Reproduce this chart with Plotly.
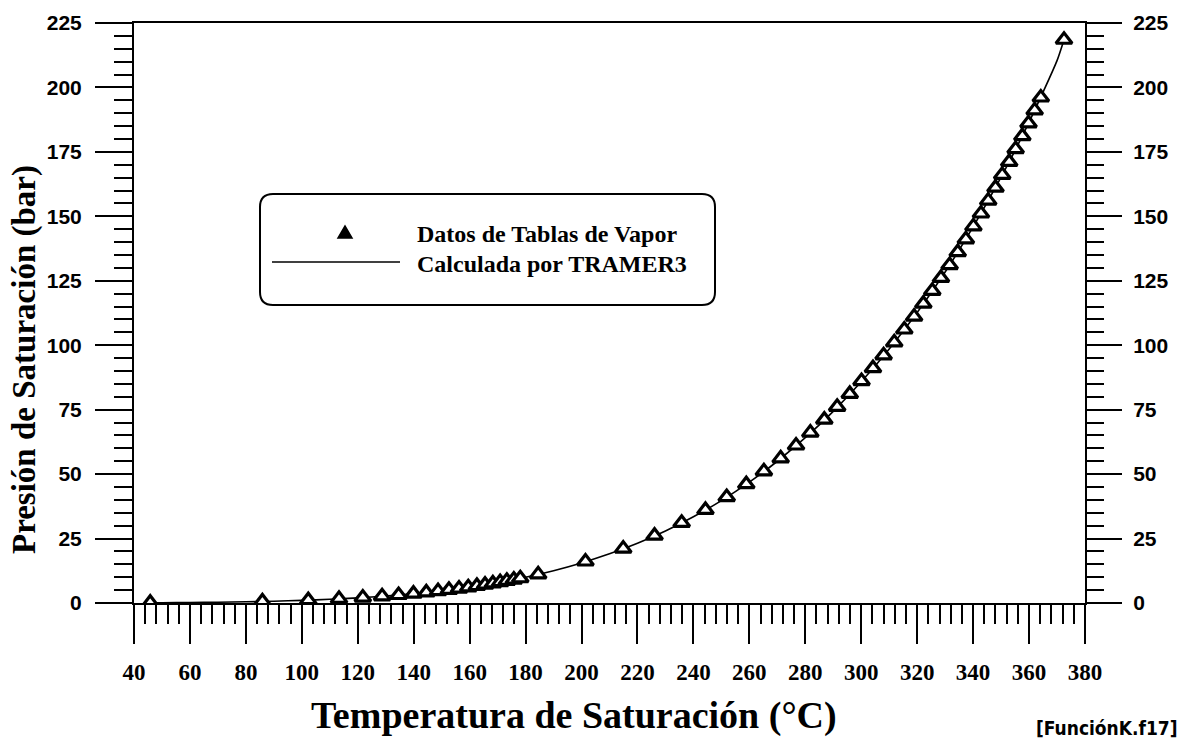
import plotly.graph_objects as go

# Saturation data from steam tables: temperature (°C) and pressure (bar)
temp_tablas = [45.8, 85.9, 102.3, 113.3, 121.8, 128.7, 134.6, 139.9, 144.5, 148.7,
               152.6, 156.2, 159.5, 162.6, 165.5, 168.3, 170.9, 173.3, 175.8, 178.1,
               184.5, 201.4, 214.9, 226.1, 235.8, 244.3, 251.9, 258.9, 265.2, 271.2,
               276.7, 281.8, 286.8, 291.4, 295.9, 300.1, 304.2, 308.0, 311.8, 315.4,
               318.9, 322.2, 325.4, 328.5, 331.6, 334.5, 337.4, 340.1, 342.8, 345.4,
               348.0, 350.4, 352.9, 355.2, 357.6, 359.8, 362.0, 364.2, 372.5]
pres_tablas = [0.1, 0.6, 1.1, 1.6, 2.1, 2.6, 3.1, 3.6, 4.1, 4.6,
               5.1, 5.6, 6.1, 6.6, 7.1, 7.6, 8.1, 8.6, 9.1, 9.6,
               11.1, 16.1, 21.1, 26.1, 31.1, 36.1, 41.1, 46.1, 51.1, 56.1,
               61.1, 66.1, 71.1, 76.1, 81.1, 86.1, 91.1, 96.1, 101.1, 106.1,
               111.1, 116.1, 121.1, 126.1, 131.1, 136.1, 141.1, 146.1, 151.1, 156.1,
               161.1, 166.1, 171.1, 176.1, 181.1, 186.1, 191.1, 196.1, 218.5]

# Curve computed by TRAMER3
temp_calc = [45.8, 50, 60, 70, 80, 90, 100, 110, 120, 130, 140, 150, 160, 170, 180,
             190, 200, 210, 220, 230, 240, 250, 260, 270, 280, 290, 300, 310, 320,
             330, 340, 350, 360, 370, 372.5]
pres_calc = [0.10, 0.12, 0.20, 0.31, 0.47, 0.70, 1.01, 1.43, 1.99, 2.70, 3.61, 4.76,
             6.18, 7.92, 10.02, 12.54, 15.54, 19.06, 23.18, 27.95, 33.44, 39.73, 46.88,
             54.99, 64.12, 74.36, 85.81, 98.56, 112.7, 128.4, 145.9, 165.2, 186.5,
             210.4, 218.5]

x_ticks = list(range(40, 381, 20))
y_ticks = list(range(0, 226, 25))

W, H = 1186, 742
L, R, T, B = 134, 101, 23, 139
PW, PH = W - L - R, H - T - B

SERIF = "Liberation Serif, Times New Roman, serif"
SANS = "Liberation Sans, Arial, sans-serif"


def px(x):
    return (x - L) / PW


def py(y):
    return (H - B - y) / PH


fig = go.Figure()

fig.add_trace(go.Scatter(
    x=temp_calc, y=pres_calc, mode="lines",
    line=dict(color="black", width=1.6, shape="spline", smoothing=0.6),
    showlegend=False, hoverinfo="skip"))

fig.add_trace(go.Scatter(
    x=temp_tablas, y=pres_tablas, mode="markers",
    marker=dict(symbol="triangle-up", size=14, color="white",
                line=dict(color="black", width=3.2)),
    showlegend=False))

axis_common = dict(
    showline=True, linewidth=2, linecolor="black",
    showgrid=False, zeroline=False,
    ticks="outside", tickwidth=2, tickcolor="black",
)

fig.update_layout(
    width=W, height=H,
    margin=dict(l=L, r=R, t=T, b=B),
    paper_bgcolor="white", plot_bgcolor="white",
    showlegend=False,
    xaxis=dict(
        range=[40, 380], tickvals=x_ticks, ticklen=39, mirror=True,
        tickfont=dict(family=SERIF, size=23, color="black", weight="bold"),
        ticklabelstandoff=8,
        minor=dict(dtick=4, ticklen=19, tickwidth=2, tickcolor="black", ticks="outside"),
        **axis_common),
    yaxis=dict(
        range=[0, 225], tickvals=y_ticks, ticklen=37,
        tickfont=dict(family=SANS, size=21, color="black", weight="bold"),
        ticklabelstandoff=9,
        minor=dict(dtick=5, ticklen=18, tickwidth=2, tickcolor="black", ticks="outside"),
        **axis_common),
    yaxis2=dict(
        range=[0, 225], tickvals=y_ticks, ticklen=35, overlaying="y", side="right",
        anchor="x",
        tickfont=dict(family=SANS, size=21, color="black", weight="bold"),
        ticklabelstandoff=7,
        minor=dict(dtick=5, ticklen=17, tickwidth=2, tickcolor="black", ticks="outside"),
        **axis_common),
)

# keep the right-hand axis drawn
fig.add_trace(go.Scatter(x=[None], y=[None], yaxis="y2", showlegend=False,
                         hoverinfo="skip"))

# Legend box with rounded corners
bx0, bx1, by0, by1, rr = 260, 715, 194, 305, 13
path = (f"M {px(bx0 + rr)},{py(by0)} L {px(bx1 - rr)},{py(by0)} "
        f"Q {px(bx1)},{py(by0)} {px(bx1)},{py(by0 + rr)} "
        f"L {px(bx1)},{py(by1 - rr)} "
        f"Q {px(bx1)},{py(by1)} {px(bx1 - rr)},{py(by1)} "
        f"L {px(bx0 + rr)},{py(by1)} "
        f"Q {px(bx0)},{py(by1)} {px(bx0)},{py(by1 - rr)} "
        f"L {px(bx0)},{py(by0 + rr)} "
        f"Q {px(bx0)},{py(by0)} {px(bx0 + rr)},{py(by0)} Z")
fig.add_shape(type="path", path=path, xref="paper", yref="paper",
              line=dict(color="black", width=2), fillcolor="white", layer="above")

# Legend keys
tx, ty = 345, 233
tri = (f"M {px(tx - 7)},{py(ty + 5)} L {px(tx + 7)},{py(ty + 5)} "
       f"L {px(tx)},{py(ty - 7)} Z")
fig.add_shape(type="path", path=tri, xref="paper", yref="paper",
              line=dict(color="black", width=1.5), fillcolor="black", layer="above")
fig.add_shape(type="line", xref="paper", yref="paper",
              x0=px(272), x1=px(400), y0=py(262), y1=py(262),
              line=dict(color="black", width=1.6), layer="above")

legend_font = dict(family=SERIF, size=24, color="black", weight="bold")
fig.add_annotation(text="Datos de Tablas de Vapor", xref="paper", yref="paper",
                   x=px(415), y=py(234), xanchor="left", yanchor="middle",
                   showarrow=False, font=legend_font)
fig.add_annotation(text="Calculada por TRAMER3", xref="paper", yref="paper",
                   x=px(415), y=py(264), xanchor="left", yanchor="middle",
                   showarrow=False, font=legend_font)

# Axis titles and file tag
fig.add_annotation(text="Presión de Saturación (bar)", xref="paper", yref="paper",
                   x=px(24), y=py(360), textangle=-90, showarrow=False,
                   xanchor="center", yanchor="middle",
                   font=dict(family=SERIF, size=33, color="black", weight="bold"))
fig.add_annotation(text="Temperatura de Saturación (°C)", xref="paper", yref="paper",
                   x=px(574), y=py(716), showarrow=False,
                   xanchor="center", yanchor="middle",
                   font=dict(family=SERIF, size=38, color="black", weight="bold"))
fig.add_annotation(text="[FunciónK.f17]", xref="paper", yref="paper",
                   x=px(1180), y=py(728), showarrow=False,
                   xanchor="right", yanchor="middle",
                   font=dict(family="Liberation Sans Narrow, DejaVu Sans Condensed, sans-serif",
                             size=19, color="black", weight="bold"))

fig.write_html("out.html")
